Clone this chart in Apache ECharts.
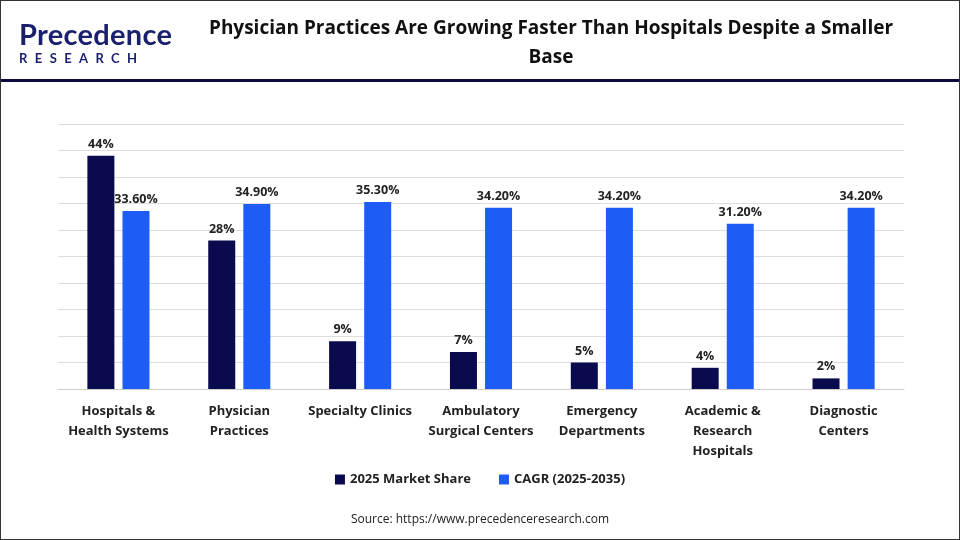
<!DOCTYPE html>
<html><head><meta charset="utf-8">
<script src="https://cdn.jsdelivr.net/npm/echarts@6/dist/echarts.min.js"></script>
<style>html,body{margin:0;padding:0;background:#fff}
#wrap{position:relative;width:960px;height:540px;box-sizing:border-box;border:1px solid #333;overflow:hidden;font-family:"Open Sans",sans-serif}
#head{position:absolute;left:0;top:0;width:958px;height:78px;border-bottom:3px solid #0b0b3f}
#logo{position:absolute;left:18px;top:18px}
#logo .p{font-family:Lato,sans-serif;font-size:29px;font-weight:bold;color:#1a1f6e;letter-spacing:0.3px;line-height:30px}
#logo .r{font-family:Lato,sans-serif;font-size:13px;font-weight:bold;color:#1a1f6e;letter-spacing:7.4px;margin-top:1px}
#title{position:absolute;left:200px;width:700px;top:12px;text-align:center;font-size:19px;font-weight:bold;color:#111;line-height:29px}
#c{position:absolute;left:0;top:0;width:958px;height:538px}
</style></head><body>
<div id="wrap">
<div id="c"></div>
<div id="head"><div id="logo"><div class="p">Precedence</div><div class="r">RESEARCH</div></div>
<div id="title">Physician Practices Are Growing Faster Than Hospitals Despite a Smaller Base</div></div>
</div>
<script>
const categories=["Hospitals &\nHealth Systems","Physician\nPractices","Specialty Clinics","Ambulatory\nSurgical Centers","Emergency\nDepartments","Academic &\nResearch\nHospitals","Diagnostic\nCenters"];
const marketShare=[44,28,9,7,5,4,2];
const cagr=[33.6,34.9,35.3,34.2,34.2,31.2,34.2];
const shareLabels=["44%","28%","9%","7%","5%","4%","2%"];
const cagrLabels=["33.60%","34.90%","35.30%","34.20%","34.20%","31.20%","34.20%"];
const chart=echarts.init(document.getElementById('c'));
chart.setOption({
 animation:false,
 textStyle:{fontFamily:'"Open Sans",sans-serif'},
 grid:{left:57,right:55,top:123,bottom:150},
 legend:{bottom:48,left:'center',itemWidth:10,itemHeight:10,itemGap:28,icon:'rect',textStyle:{fontSize:13,fontWeight:'bold',color:'#222'},
  data:['2025 Market Share','CAGR (2025-2035)']},
 xAxis:{type:'category',data:categories,axisTick:{show:false},axisLine:{lineStyle:{color:'#ccc'}},
  axisLabel:{fontSize:13,fontWeight:'bold',color:'#222',lineHeight:20,margin:12,interval:0}},
 yAxis:{type:'value',min:0,max:50,interval:5,axisLabel:{show:false},axisLine:{show:false},axisTick:{show:false},splitLine:{lineStyle:{color:'#ddd'}}},
 graphic:[{type:'text',left:'center',top:513,style:{text:'Source: https://www.precedenceresearch.com',fontSize:12,fill:'#222',fontFamily:'"Open Sans",sans-serif'}}],
 series:[
  {name:'2025 Market Share',type:'bar',data:marketShare,barWidth:27,barGap:'30%',itemStyle:{color:'#0a0a4e'},
   label:{show:true,position:'top',fontSize:12.5,fontWeight:'bold',color:'#222',formatter:p=>shareLabels[p.dataIndex]}},
  {name:'CAGR (2025-2035)',type:'bar',data:cagr,barWidth:27,itemStyle:{color:'#1d5cf5'},
   label:{show:true,position:'top',fontSize:12.5,fontWeight:'bold',color:'#222',formatter:p=>cagrLabels[p.dataIndex]}}
 ]
});
</script></body></html>
